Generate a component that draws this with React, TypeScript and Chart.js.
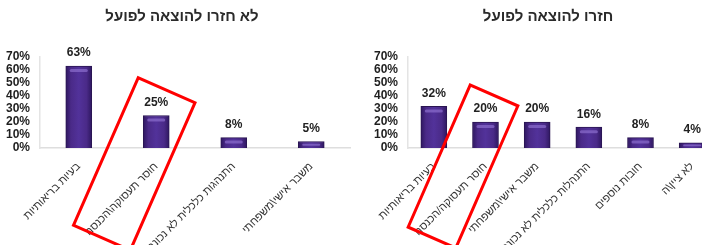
import React, { useEffect, useRef } from 'react';
import { Chart, registerables } from 'chart.js';

Chart.register(...registerables);

const leftTitle = 'לא חזרו להוצאה לפועל';
const leftCategories = ['בעיות בריאותיות', 'חוסר תעסוקה\\הכנסה', 'התנהגות כלכלית לא נכונה', 'משבר אישי\\משפחתי'];
const leftValues = [63, 25, 8, 5];

const rightTitle = 'חזרו להוצאה לפועל';
const rightCategories = ['בעיות בריאותיות', 'חוסר תעסוקה/הכנסה', 'משבר אישי\\משפחתי', 'התנהלות כלכלית לא נכונה', 'חובות נוספים', 'לא ציין\\ה'];
const rightValues = [32, 20, 20, 16, 8, 4];

const yMin = 0;
const yMax = 70;
const yStep = 10;

const FONT = "'Liberation Sans', Arial, sans-serif";

const valueLabelPlugin = {
  id: 'valueLabels',
  afterDatasetsDraw(chart: any) {
    const ctx = chart.ctx;
    const meta = chart.getDatasetMeta(0);
    const data = chart.data.datasets[0].data;
    ctx.save();
    meta.data.forEach((el: any, i: number) => {
      const w = el.width;
      const top = el.y;
      const bottom = el.base;
      const h = bottom - top;
      const hh = Math.min(3, Math.max(1.5, h / 3));
      const hy = Math.min(top + 3, top + h / 2 - hh / 2);
      ctx.fillStyle = 'rgba(140,110,205,0.7)';
      ctx.beginPath();
      const hx = el.x - w / 2 + 4;
      const hw = w - 8;
      if (ctx.roundRect) ctx.roundRect(hx, hy, hw, hh, hh / 2);
      else ctx.rect(hx, hy, hw, hh);
      ctx.fill();
      ctx.fillStyle = '#222';
      ctx.font = `bold 12px ${FONT}`;
      ctx.textAlign = 'center';
      ctx.textBaseline = 'middle';
      ctx.fillText(`${data[i]}%`, el.x, el.y - 13);
    });
    ctx.restore();
  },
};

const highlightBoxPlugin = {
  id: 'highlightBox',
  afterDraw(chart: any, _args: any, opts: any) {
    if (!opts || opts.index === undefined) return;
    const ctx = chart.ctx;
    const x = chart.scales.x.getPixelForValue(opts.index) + opts.dx;
    const y = chart.chartArea.bottom + opts.dy;
    ctx.save();
    ctx.translate(x, y);
    ctx.rotate((opts.angle * Math.PI) / 180);
    ctx.strokeStyle = '#ff0000';
    ctx.lineWidth = 3;
    ctx.strokeRect(-opts.w / 2, -opts.h / 2, opts.w, opts.h);
    ctx.restore();
  },
};

function barGradient(c: any) {
  const chart = c.chart;
  if (!chart.chartArea || !chart.scales || !chart.scales.x) return '#4a2a88';
  const x = chart.scales.x.getPixelForValue(c.dataIndex);
  const half = 13;
  const g = chart.ctx.createLinearGradient(x - half, 0, x + half, 0);
  g.addColorStop(0, '#2e1760');
  g.addColorStop(0.2, '#4a2a88');
  g.addColorStop(0.5, '#52329a');
  g.addColorStop(0.8, '#4a2a88');
  g.addColorStop(1, '#2e1760');
  return g;
}

function makeConfig(title: string, labels: string[], values: number[], rightPad: number, box: any) {
  return {
    type: 'bar',
    data: {
      labels,
      datasets: [
        {
          data: values,
          backgroundColor: barGradient,
          borderColor: '#2a1552',
          borderWidth: 1,
          barThickness: 26,
        },
      ],
    },
    options: {
      animation: false,
      responsive: false,
      maintainAspectRatio: false,
      layout: { padding: 0 },
      plugins: {
        legend: { display: false },
        tooltip: { enabled: false },
        title: {
          display: true,
          text: title,
          color: '#2a2a2a',
          font: { family: FONT, size: 15, weight: 'bold', lineHeight: 1.2 },
          padding: { top: 8, bottom: 31 },
        },
        highlightBox: box,
      },
      scales: {
        x: {
          grid: { display: false },
          border: { display: true, color: '#dedede', width: 1.5 },
          ticks: {
            autoSkip: false,
            maxRotation: 45,
            minRotation: 45,
            padding: 4,
            color: '#333',
            font: { family: FONT, size: 11 },
          },
          afterFit: (s: any) => {
            s.height = 152;
          },
        },
        y: {
          min: yMin,
          max: yMax,
          grid: { display: false, drawTicks: false },
          border: { display: true, color: '#e4e4e4', width: 1.5 },
          ticks: {
            stepSize: yStep,
            autoSkip: false,
            padding: 10,
            color: '#1e1e1e',
            font: { family: FONT, size: 12, weight: 'bold' },
            callback: (v: any) => `${v}%`,
          },
          afterFit: (s: any) => {
            s.width = 40;
          },
        },
        pad: {
          position: 'right',
          display: true,
          grid: { display: false, drawTicks: false },
          border: { display: false },
          ticks: { display: false },
          afterFit: (s: any) => {
            s.width = rightPad;
          },
        },
      },
    },
    plugins: [valueLabelPlugin, highlightBoxPlugin],
  } as any;
}

function BarChart(props: { config: any; width: number; height: number; left: number }) {
  const ref = useRef<HTMLCanvasElement | null>(null);
  useEffect(() => {
    if (!ref.current) return;
    const chart = new Chart(ref.current, props.config);
    return () => chart.destroy();
  }, []);
  return (
    <canvas
      ref={ref}
      width={props.width}
      height={props.height}
      style={{ position: 'absolute', left: props.left, top: 0, width: props.width, height: props.height }}
    />
  );
}

export default function App() {
  const leftConfig = makeConfig(leftTitle, leftCategories, leftValues, 14, {
    index: 1,
    dx: -22,
    dy: 16,
    w: 62,
    h: 161,
    angle: 23.7,
  });
  const rightConfig = makeConfig(rightTitle, rightCategories, rightValues, 10, {
    index: 1,
    dx: -22.5,
    dy: 18.5,
    w: 52,
    h: 155,
    angle: 23.6,
  });
  return (
    <div
      style={{
        position: 'fixed',
        left: 0,
        top: 0,
        width: 702,
        height: 245,
        overflow: 'hidden',
        background: '#fff',
      }}
    >
      <BarChart config={leftConfig} width={364} height={300} left={0} />
      <BarChart config={rightConfig} width={360} height={300} left={368} />
    </div>
  );
}
